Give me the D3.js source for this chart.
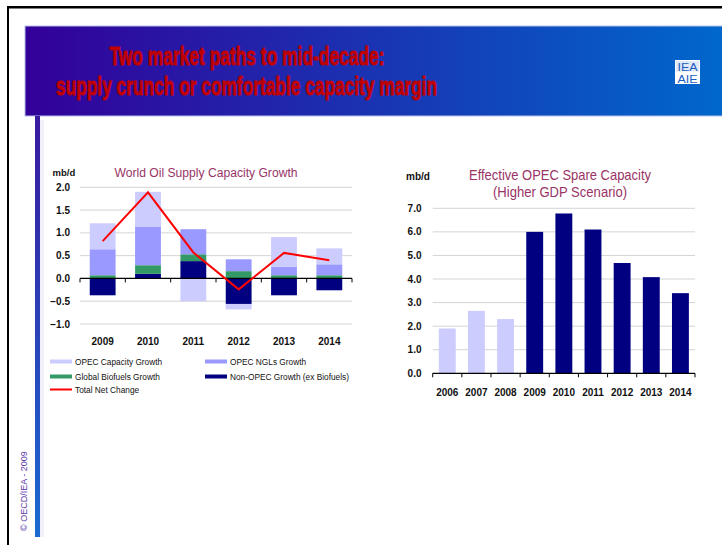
<!DOCTYPE html>
<html lang="en">
<head>
  <meta charset="utf-8">
  <title>Two market paths to mid-decade</title>
  <style>
    html,body { margin:0; padding:0; overflow:hidden; background:#fff; }
    svg { display:block; font-family:"Liberation Sans", Arial, sans-serif; }
  </style>
  <script src="https://d3js.org/d3.v7.min.js"></script>
</head>
<body>
<svg width="722" height="545"></svg>
<script>
  /* ---------- data ---------- */
  const supplyYears  = ["2009", "2010", "2011", "2012", "2013", "2014"];
  const opecCapacity = [0.57, 0.76, -0.50, -0.12, 0.65, 0.35];
  const opecNGL      = [0.57, 0.85, 0.55, 0.26, 0.19, 0.24];
  const biofuels     = [0.07, 0.19, 0.15, 0.16, 0.07, 0.07];
  const nonOpec      = [-0.37, 0.10, 0.38, -0.56, -0.37, -0.26];
  const totalNet     = [0.82, 1.89, 0.57, -0.24, 0.56, 0.40];
  const supplyTicks  = [2.0, 1.5, 1.0, 0.5, 0.0, -0.5, -1.0];

  const spareYears    = ["2006", "2007", "2008", "2009", "2010", "2011", "2012", "2013", "2014"];
  const spareCapacity = [1.9, 2.65, 2.3, 6.0, 6.78, 6.1, 4.68, 4.08, 3.4];
  const spareTicks    = [0, 1, 2, 3, 4, 5, 6, 7];
  const firstForecast = "2009";

  const colCap = "#ccccff", colNGL = "#9999ff", colBio = "#339966", colNon = "#000080";
  const titleCol = "#993366";

  const svg = d3.select("svg");
  const defs = svg.append("defs");

  /* ---------- slide frame ---------- */
  const hg = defs.append("linearGradient").attr("id", "hdr");
  hg.append("stop").attr("offset", "0%").attr("stop-color", "#330099");
  hg.append("stop").attr("offset", "100%").attr("stop-color", "#0068cc");
  const vg = defs.append("linearGradient").attr("id", "side")
      .attr("x1", 0).attr("y1", 0).attr("x2", 0).attr("y2", 1);
  vg.append("stop").attr("offset", "0%").attr("stop-color", "#3a1a9e");
  vg.append("stop").attr("offset", "100%").attr("stop-color", "#1a6ad2");

  svg.append("rect").attr("x", 7).attr("y", 6).attr("width", 720).attr("height", 2.5).attr("fill", "#000");
  svg.append("rect").attr("x", 7).attr("y", 6).attr("width", 2).attr("height", 545).attr("fill", "#000");

  svg.append("rect").attr("x", 25).attr("y", 26).attr("width", 700).attr("height", 90)
      .attr("fill", "url(#hdr)").attr("stroke", "#b8c0e8").attr("stroke-width", 1);
  svg.append("rect").attr("x", 40).attr("y", 120).attr("width", 4).attr("height", 417).attr("fill", "#f0f0fa");
  svg.append("rect").attr("x", 35).attr("y", 116).attr("width", 5).attr("height", 421).attr("fill", "url(#side)");

  const titleLines = [
    { text: "Two market paths to mid-decade:", x: 247, y: 65, len: 275 },
    { text: "supply crunch or comfortable capacity margin", x: 246.5, y: 95, len: 381 }
  ];
  svg.append("g").selectAll("text").data(titleLines).join("text")
      .attr("x", d => d.x).attr("y", d => d.y).attr("text-anchor", "middle")
      .attr("font-size", 25).attr("font-weight", "bold").attr("fill", "#c00000")
      .attr("stroke", "#c00000").attr("stroke-width", 0.9)
      .attr("textLength", d => d.len).attr("lengthAdjust", "spacingAndGlyphs")
      .text(d => d.text);

  // IEA logo
  const logo = svg.append("g").attr("transform", "translate(675,60)");
  logo.append("rect").attr("width", 25).attr("height", 24).attr("fill", "#fff");
  logo.append("rect").attr("x", 1).attr("y", 1).attr("width", 23).attr("height", 10.5)
      .attr("fill", "#dfe8f7");
  logo.append("text").attr("x", 12.5).attr("y", 10.5).attr("text-anchor", "middle")
      .attr("font-size", 11).attr("fill", "#1a5cc0").attr("textLength", 20)
      .attr("lengthAdjust", "spacingAndGlyphs").text("IEA");
  logo.append("text").attr("x", 12.5).attr("y", 22.5).attr("text-anchor", "middle")
      .attr("font-size", 11).attr("fill", "#1a5cc0").attr("textLength", 20)
      .attr("lengthAdjust", "spacingAndGlyphs").text("AIE");

  svg.append("text").attr("transform", "translate(27,531) rotate(-90)")
      .attr("font-size", 9).attr("fill", "#5a3aa8").text("© OECD/IEA - 2009");

  /* ---------- left chart: supply capacity growth ---------- */
  const xL = d3.scaleBand().domain(supplyYears).range([80, 352]).paddingInner(0.43).paddingOuter(0.215);
  const yL = d3.scaleLinear().domain([-1, 2]).range([324, 187.3]);

  const left = svg.append("g");
  left.append("g").selectAll("line").data(supplyTicks.filter(d => d !== 0)).join("line")
      .attr("x1", 80).attr("x2", 352).attr("y1", d => yL(d)).attr("y2", d => yL(d))
      .attr("stroke", "#d4d4d4").attr("stroke-width", 1);
  left.append("g").selectAll("text").data(supplyTicks).join("text")
      .attr("x", 70).attr("y", d => yL(d) + 3.6).attr("text-anchor", "end")
      .attr("font-size", 10).attr("font-weight", "bold").attr("fill", "#111")
      .text(d => d3.format(".1f")(d));

  const rows = supplyYears.map((y, i) => ({
    year: y, non: nonOpec[i], bio: biofuels[i], ngl: opecNGL[i], cap: opecCapacity[i]
  }));
  const keys = ["non", "bio", "ngl", "cap"];
  const colors = { non: colNon, bio: colBio, ngl: colNGL, cap: colCap };
  const series = d3.stack().keys(keys).offset(d3.stackOffsetDiverging)(rows);

  left.append("g").selectAll("g").data(series).join("g")
      .attr("fill", s => colors[s.key])
    .selectAll("rect").data(s => s).join("rect")
      .attr("x", d => xL(d.data.year)).attr("width", xL.bandwidth())
      .attr("y", d => yL(Math.max(d[0], d[1])))
      .attr("height", d => Math.abs(yL(d[0]) - yL(d[1])));

  // zero axis with ticks at category boundaries
  left.append("line").attr("x1", 80).attr("x2", 352).attr("y1", yL(0)).attr("y2", yL(0))
      .attr("stroke", "#000").attr("stroke-width", 1.2);
  const stepL = xL.step();
  left.append("g").selectAll("line").data(d3.range(supplyYears.length + 1)).join("line")
      .attr("x1", i => 80 + i * stepL).attr("x2", i => 80 + i * stepL)
      .attr("y1", yL(0)).attr("y2", yL(0) + 4).attr("stroke", "#000");

  left.append("path").datum(totalNet)
      .attr("fill", "none").attr("stroke", "#ff0000").attr("stroke-width", 2)
      .attr("d", d3.line().x((d, i) => xL(supplyYears[i]) + xL.bandwidth() / 2).y(d => yL(d)));

  left.append("g").selectAll("text").data(supplyYears).join("text")
      .attr("x", d => xL(d) + xL.bandwidth() / 2).attr("y", 345).attr("text-anchor", "middle")
      .attr("font-size", 10).attr("font-weight", "bold").attr("fill", "#111").text(d => d);

  left.append("text").attr("x", 52.5).attr("y", 176).attr("font-size", 9.5).attr("font-weight", "bold")
      .attr("fill", "#111").text("mb/d");
  left.append("text").attr("x", 206).attr("y", 176.5).attr("text-anchor", "middle")
      .attr("font-size", 12.5).attr("fill", titleCol)
      .attr("textLength", 183).attr("lengthAdjust", "spacingAndGlyphs")
      .text("World Oil Supply Capacity Growth");

  // legend
  const legendItems = [
    { label: "OPEC Capacity Growth", color: colCap, x: 50, y: 361.5, w: 4 },
    { label: "OPEC NGLs Growth", color: colNGL, x: 205, y: 361.5, w: 4 },
    { label: "Global Biofuels Growth", color: colBio, x: 50, y: 376.5, w: 4 },
    { label: "Non-OPEC Growth (ex Biofuels)", color: colNon, x: 205, y: 376.5, w: 4 },
    { label: "Total Net Change", color: "#ff0000", x: 50, y: 389.5, w: 2 }
  ];
  const lg = left.append("g").selectAll("g").data(legendItems).join("g");
  lg.append("line").attr("x1", d => d.x).attr("x2", d => d.x + 22)
      .attr("y1", d => d.y).attr("y2", d => d.y)
      .attr("stroke", d => d.color).attr("stroke-width", d => d.w);
  lg.append("text").attr("x", d => d.x + 25).attr("y", d => d.y + 3)
      .attr("font-size", 8.3).attr("fill", "#111").text(d => d.label);

  /* ---------- right chart: OPEC spare capacity ---------- */
  const xR = d3.scaleBand().domain(spareYears).range([432.7, 695]).paddingInner(0.42).paddingOuter(0.21);
  const yR = d3.scaleLinear().domain([0, 7]).range([373.3, 208.3]);

  const right = svg.append("g");
  right.append("g").selectAll("line").data(spareTicks.filter(d => d !== 0)).join("line")
      .attr("x1", 432.7).attr("x2", 695).attr("y1", d => yR(d)).attr("y2", d => yR(d))
      .attr("stroke", "#d4d4d4").attr("stroke-width", 1);
  right.append("g").selectAll("text").data(spareTicks).join("text")
      .attr("x", 421.5).attr("y", d => yR(d) + 3.6).attr("text-anchor", "end")
      .attr("font-size", 10).attr("font-weight", "bold").attr("fill", "#111")
      .text(d => d3.format(".1f")(d));

  right.append("g").selectAll("rect").data(spareYears).join("rect")
      .attr("x", d => xR(d)).attr("width", xR.bandwidth())
      .attr("y", (d, i) => yR(spareCapacity[i]))
      .attr("height", (d, i) => yR(0) - yR(spareCapacity[i]))
      .attr("fill", d => +d < +firstForecast ? colCap : colNon);

  right.append("line").attr("x1", 432.7).attr("x2", 695).attr("y1", yR(0)).attr("y2", yR(0))
      .attr("stroke", "#000").attr("stroke-width", 1.2);
  const stepR = xR.step();
  right.append("g").selectAll("line").data(d3.range(spareYears.length + 1)).join("line")
      .attr("x1", i => 432.7 + i * stepR).attr("x2", i => 432.7 + i * stepR)
      .attr("y1", yR(0)).attr("y2", yR(0) + 4).attr("stroke", "#000");

  right.append("g").selectAll("text").data(spareYears).join("text")
      .attr("x", d => xR(d) + xR.bandwidth() / 2).attr("y", 395.5).attr("text-anchor", "middle")
      .attr("font-size", 10).attr("font-weight", "bold").attr("fill", "#111").text(d => d);

  right.append("text").attr("x", 406).attr("y", 180).attr("font-size", 10).attr("font-weight", "bold")
      .attr("fill", "#111").text("mb/d");
  right.append("text").attr("x", 560).attr("y", 180).attr("text-anchor", "middle")
      .attr("font-size", 15).attr("fill", titleCol)
      .attr("textLength", 182).attr("lengthAdjust", "spacingAndGlyphs")
      .text("Effective OPEC Spare Capacity");
  right.append("text").attr("x", 560).attr("y", 196.5).attr("text-anchor", "middle")
      .attr("font-size", 15).attr("fill", titleCol)
      .attr("textLength", 134).attr("lengthAdjust", "spacingAndGlyphs")
      .text("(Higher GDP Scenario)");
</script>
</body>
</html>
